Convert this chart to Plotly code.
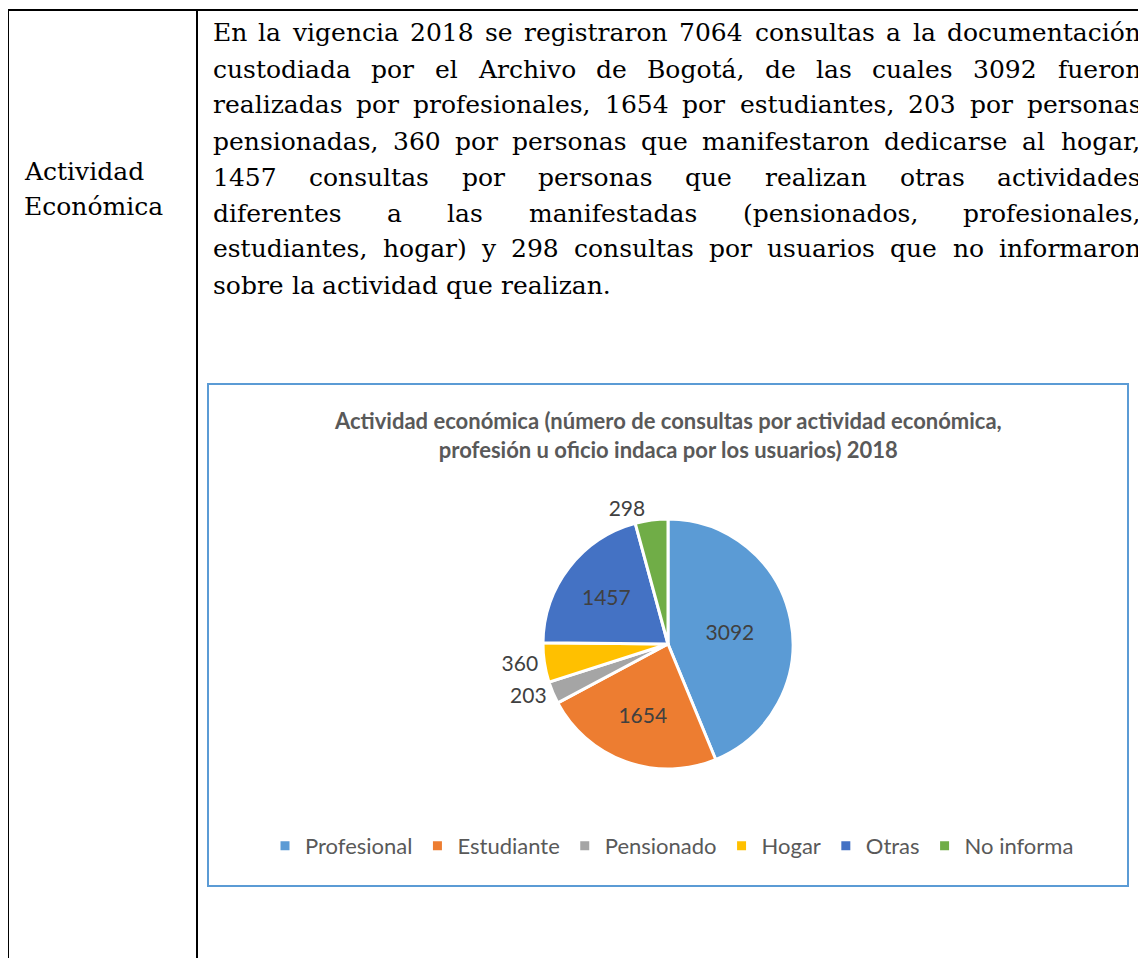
import plotly.graph_objects as go

# ---------------- data ----------------
categories = ["Profesional", "Estudiante", "Pensionado", "Hogar", "Otras", "No informa"]
consultas = [3092, 1654, 203, 360, 1457, 298]
colors = ["#5B9BD5", "#ED7D31", "#A5A5A5", "#FFC000", "#4472C4", "#70AD47"]
label_positions = ["inside", "inside", "outside", "outside", "inside", "outside"]

chart_title = ("Actividad económica (número de consultas por actividad económica,<br>"
               "profesión u oficio indaca por los usuarios) 2018")
row_header = ["Actividad", "Económica"]
paragraph_lines = [
    "En la vigencia 2018 se registraron 7064 consultas a la documentación",
    "custodiada por el Archivo de Bogotá, de las cuales 3092 fueron",
    "realizadas por profesionales, 1654 por estudiantes, 203 por personas",
    "pensionadas, 360 por personas que manifestaron dedicarse al hogar,",
    "1457 consultas por personas que realizan otras actividades",
    "diferentes a las manifestadas (pensionados, profesionales,",
    "estudiantes, hogar) y 298 consultas por usuarios que no informaron",
    "sobre la actividad que realizan.",
]

# ---------------- layout helpers ----------------
PAGE_W, PAGE_H = 1146, 958
OFF = 8  # default page body margin
W, H = PAGE_W - OFF, PAGE_H - OFF
SERIF = "DejaVu Serif"
SANS = "Lato"
BODY_SIZE = 25


def px(x):
    return (x - OFF) / W


def py(y):
    return 1 - (y - OFF) / H


# approximate DejaVu Serif advance widths (em)
_w = {
    " ": .318, "a": .596, "b": .640, "c": .560, "d": .640, "e": .592, "f": .370,
    "g": .640, "h": .644, "i": .320, "j": .310, "k": .601, "l": .320, "m": .948,
    "n": .644, "o": .602, "p": .640, "q": .640, "r": .478, "s": .513, "t": .402,
    "u": .644, "v": .565, "w": .844, "x": .565, "y": .565, "z": .525,
    ",": .318, ".": .318, "(": .390, ")": .390,
    "á": .596, "é": .592, "í": .320, "ó": .602, "ú": .644,
    "A": .724, "B": .727, "E": .698, "O": .802,
}


def est_width(word, size):
    total = 0.0
    for ch in word:
        if ch.isdigit():
            total += .636
        else:
            total += _w.get(ch, .62)
    return total * size


annotations = []

# paragraph (justified, word by word)
X0, X1 = 213, 1141
for i, line in enumerate(paragraph_lines):
    yc = 33 + 36 * i
    words = line.split(" ")
    last = i == len(paragraph_lines) - 1
    widths = [est_width(w_, BODY_SIZE) for w_ in words]
    if last:
        gap = _w[" "] * BODY_SIZE
    else:
        gap = (X1 - X0 - sum(widths)) / (len(words) - 1)
    x = X0
    for w_, wd in zip(words, widths):
        annotations.append(dict(
            x=px(x + wd / 2), y=py(yc), xref="paper", yref="paper",
            text=w_, showarrow=False, xanchor="center", yanchor="middle",
            font=dict(family=SERIF, size=BODY_SIZE, color="#000000"),
        ))
        x += wd + gap

# row header
for j, t in enumerate(row_header):
    annotations.append(dict(
        x=px(22), y=py(171 + 36 * j), xref="paper", yref="paper", text=t,
        showarrow=False, xanchor="left", yanchor="middle",
        font=dict(family=SERIF, size=BODY_SIZE, color="#000000"),
    ))

# chart title
annotations.append(dict(
    x=px(668), y=py(435), xref="paper", yref="paper",
    text="<b>" + chart_title.replace("<br>", "</b><br><b>") + "</b>",
    showarrow=False, xanchor="center", yanchor="middle", align="center",
    font=dict(family=SANS, size=22, color="#595959"),
))

shapes = [
    dict(type="line", xref="paper", yref="paper", x0=px(7), x1=px(PAGE_W), y0=py(10), y1=py(10),
         line=dict(color="#000000", width=2)),
    dict(type="line", xref="paper", yref="paper", x0=px(8), x1=px(8), y0=py(10), y1=py(PAGE_H),
         line=dict(color="#000000", width=2)),
    dict(type="line", xref="paper", yref="paper", x0=px(197), x1=px(197), y0=py(10), y1=py(PAGE_H),
         line=dict(color="#000000", width=2)),
    dict(type="rect", xref="paper", yref="paper", x0=px(208), x1=px(1128), y0=py(384), y1=py(886),
         line=dict(color="#5B9BD5", width=2), fillcolor="rgba(0,0,0,0)"),
]

# pie geometry
CX, CY, R = 668, 644, 125

fig = go.Figure(go.Pie(
    labels=categories,
    values=consultas,
    sort=False,
    direction="clockwise",
    rotation=0,
    marker=dict(colors=colors, line=dict(color="#FFFFFF", width=3)),
    textinfo="value",
    textposition=label_positions,
    insidetextorientation="horizontal",
    textfont=dict(family=SANS, size=21, color="#404040"),
    outsidetextfont=dict(family=SANS, size=21, color="#404040"),
    insidetextfont=dict(family=SANS, size=21, color="#404040"),
    domain=dict(x=[px(CX - R), px(CX + R)], y=[py(CY + R), py(CY - R)]),
    hoverinfo="skip",
))

fig.update_layout(
    width=W, height=H,
    margin=dict(l=0, r=0, t=0, b=0),
    paper_bgcolor="#FFFFFF",
    plot_bgcolor="#FFFFFF",
    showlegend=True,
    legend=dict(
        orientation="h", x=px(672), xanchor="center", y=py(846), yanchor="middle",
        font=dict(family=SANS, size=22, color="#595959"),
        itemwidth=30, traceorder="normal",
    ),
    annotations=annotations,
    shapes=shapes,
)

fig.write_html("out.html")
